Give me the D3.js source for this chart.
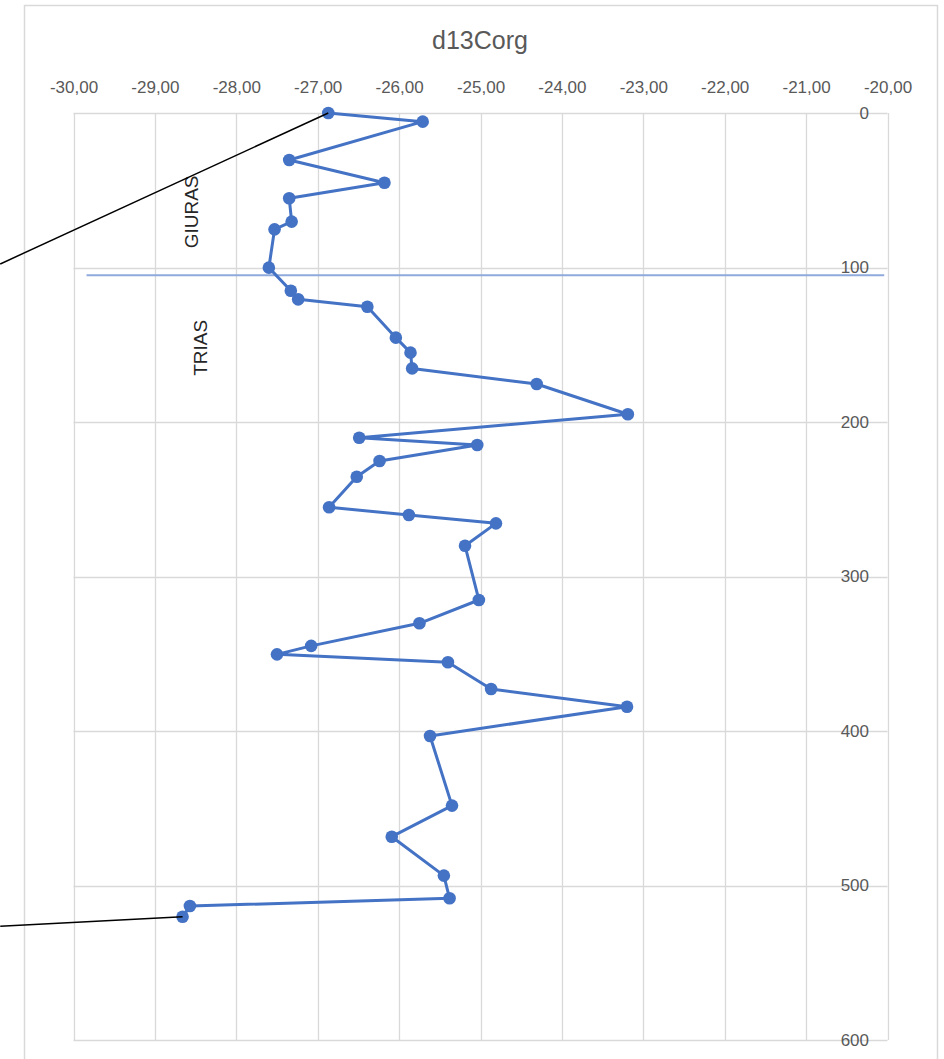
<!DOCTYPE html>
<html>
<head>
<meta charset="utf-8">
<script src="https://cdn.jsdelivr.net/npm/d3@7"></script>
<style>
  html, body { margin: 0; padding: 0; background: #fff; }
  svg { display: block; }
</style>
</head>
<body>
<svg id="chart" width="944" height="1059"></svg>
<script>
// ---- data ----
const chartTitle = "d13Corg";
const depths = [0, 5.6, 30.4, 45.1, 55.2, 70.3, 75.3, 100.1, 115, 120.6, 125.4, 145.4, 155.1, 165.3, 175.4, 195,
  210.2, 214.9, 225.2, 235.4, 255.2, 260.2, 265.6, 280.1, 315.2, 330.3, 344.9, 350.4, 355.5, 372.8, 384.3,
  403.2, 448.3, 468.4, 493.6, 508.3, 513.3, 520.2];
const d13Corg = [-26.87, -25.71, -27.35, -26.18, -27.35, -27.32, -27.53, -27.60, -27.33, -27.24, -26.39, -26.04,
  -25.86, -25.84, -24.31, -23.19, -26.49, -25.04, -26.24, -26.52, -26.86, -25.88, -24.81, -25.19, -25.02, -25.75,
  -27.08, -27.50, -25.40, -24.87, -23.20, -25.62, -25.35, -26.09, -25.45, -25.38, -28.57, -28.66];
const xTicks = [-30, -29, -28, -27, -26, -25, -24, -23, -22, -21, -20];
const yTicks = [0, 100, 200, 300, 400, 500, 600];
const boundaryDepth = 105;              // Jurassic / Triassic boundary
const boundaryRange = [-29.84, -20.04];
const periodLabels = ["GIURAS", "TRIAS"];
const periodLabelPos = [[-28.55, 64], [-28.45, 152]];   // [value, depth]
// leader lines (value, depth) -> joined to first / last sample
const leaderLines = [
  [[-30.9, 97.7], [-26.87, 0]],
  [[-30.9, 526.3], [-28.66, 520.2]]
];

// ---- layout ----
const svg = d3.select("#chart");
const W = 944, H = 1059;
const x = d3.scaleLinear().domain([-30, -20]).range([73.5, 887.5]);
const y = d3.scaleLinear().domain([0, 600]).range([113, 1040]);
const fmt = v => d3.format(".2f")(v).replace(".", ",").replace("−", "-");

// chart area border (open at bottom, as cropped)
svg.append("path")
  .attr("d", `M24.5,${H} V5.5 H937.5 V${H}`)
  .attr("fill", "none").attr("stroke", "#d9d9d9").attr("stroke-width", 1.5);

// title
svg.append("text")
  .attr("x", 480).attr("y", 49)
  .attr("text-anchor", "middle")
  .attr("font-family", "'Liberation Sans', Arial, sans-serif")
  .attr("font-size", 25).attr("fill", "#595959")
  .text(chartTitle);

// gridlines
const grid = svg.append("g").attr("stroke", "#d9d9d9").attr("stroke-width", 1.3);
grid.selectAll("line.v").data(xTicks).join("line")
  .attr("x1", d => Math.round(x(d)) + 0.5).attr("x2", d => Math.round(x(d)) + 0.5)
  .attr("y1", y(0)).attr("y2", y(600));
grid.selectAll("line.h").data(yTicks).join("line")
  .attr("x1", x(-30)).attr("x2", x(-20))
  .attr("y1", d => Math.round(y(d)) + 0.5).attr("y2", d => Math.round(y(d)) + 0.5);

// top x axis labels
const xAxis = d3.axisTop(x).tickValues(xTicks).tickFormat(fmt).tickSize(0).tickPadding(0);
const gx = svg.append("g").attr("transform", "translate(0,93)").call(xAxis);
gx.select(".domain").remove();
gx.selectAll("text")
  .attr("font-family", "'Liberation Sans', Arial, sans-serif")
  .attr("font-size", 17).attr("fill", "#595959").attr("dy", 0);

// y axis labels (right side, inside)
const yAxis = d3.axisLeft(y).tickValues(yTicks).tickSize(0).tickPadding(0);
const gy = svg.append("g").attr("transform", "translate(869,0)").call(yAxis);
gy.select(".domain").remove();
gy.selectAll("text")
  .attr("font-family", "'Liberation Sans', Arial, sans-serif")
  .attr("font-size", 17).attr("fill", "#595959");

// boundary line
svg.append("line")
  .attr("x1", x(boundaryRange[0])).attr("x2", x(boundaryRange[1]))
  .attr("y1", y(boundaryDepth)).attr("y2", y(boundaryDepth))
  .attr("stroke", "#8faadc").attr("stroke-width", 2);

// period labels
svg.selectAll("text.period").data(periodLabels).join("text")
  .attr("class", "period")
  .attr("transform", (d, i) => `translate(${x(periodLabelPos[i][0])},${y(periodLabelPos[i][1])}) rotate(-90)`)
  .attr("text-anchor", "middle").attr("dy", "0.36em")
  .attr("font-family", "'Liberation Sans', Arial, sans-serif")
  .attr("font-size", 19).attr("fill", "#262626")
  .text(d => d);

// data series
const pts = depths.map((d, i) => [d13Corg[i], d]);
const line = d3.line().x(d => x(d[0])).y(d => y(d[1]));
svg.append("path")
  .datum(pts)
  .attr("d", line)
  .attr("fill", "none").attr("stroke", "#4472c4").attr("stroke-width", 3)
  .attr("stroke-linejoin", "round");
svg.selectAll("circle.pt").data(pts).join("circle")
  .attr("class", "pt")
  .attr("cx", d => x(d[0])).attr("cy", d => y(d[1]))
  .attr("r", 6.3).attr("fill", "#4472c4");

// leader lines
svg.selectAll("path.leader").data(leaderLines).join("path")
  .attr("class", "leader")
  .attr("d", d => line(d))
  .attr("fill", "none").attr("stroke", "#000").attr("stroke-width", 1.5);
</script>
</body>
</html>
